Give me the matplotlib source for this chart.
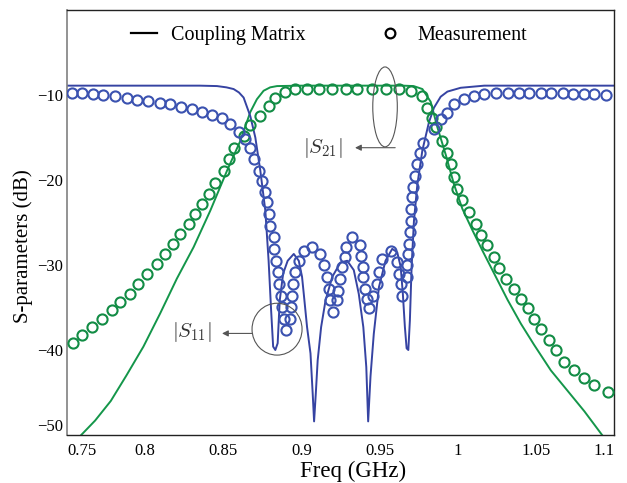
import matplotlib
matplotlib.use("Agg")
import matplotlib.pyplot as plt
from matplotlib.lines import Line2D
from matplotlib.patches import Ellipse

plt.rcParams["font.family"] = ["Liberation Serif", "DejaVu Serif"]
plt.rcParams["mathtext.fontset"] = "cm"

# ---- coupling-matrix model (lines) ----
s11_model_f = [0.750, 0.800, 0.835, 0.846, 0.852, 0.8566, 0.860, 0.863, 0.8673, 0.8705,
               0.8737, 0.8769, 0.879, 0.8806, 0.8819, 0.8833, 0.8848, 0.8861, 0.8883, 0.8912,
               0.8951, 0.8983, 0.9004, 0.9015, 0.9036, 0.9058, 0.9072, 0.9081, 0.9092, 0.9104,
               0.9126, 0.9154, 0.9197, 0.925, 0.9293, 0.9335, 0.9367, 0.9396, 0.9415, 0.9427,
               0.9442, 0.9463, 0.9496, 0.9538, 0.9581, 0.9613, 0.9635, 0.9649, 0.9662, 0.9673,
               0.9684, 0.9694, 0.9705, 0.972, 0.9742, 0.9774, 0.9816, 0.9848, 0.9891, 0.9934,
               1.0019, 1.017, 1.05, 1.1]
s11_model_db = [-8.9, -8.9, -8.9, -8.95, -9.1, -9.3, -9.7, -10.3, -12.5, -15.0,
                -18.9, -23.6, -29.5, -35.3, -39.6, -40.0, -39.2, -34.2, -31.0, -29.5,
                -28.7, -29.5, -31.4, -33.4, -37.3, -40.4, -45.1, -48.4, -45.1, -41.2,
                -37.3, -34.2, -31.4, -29.7, -29.5, -30.6, -33.4, -37.3, -42.0, -48.4,
                -43.1, -38.1, -32.6, -29.5, -28.1, -28.5, -30.2, -33.4, -37.3, -39.8,
                -40.0, -36.5, -30.2, -24.8, -20.5, -16.5, -13.2, -11.5, -10.2, -9.6,
                -9.15, -8.9, -8.9, -8.9]

s21_model_f = [0.757, 0.768, 0.778, 0.788, 0.7989, 0.8096, 0.8203, 0.831, 0.8417, 0.8524,
               0.8609, 0.8673, 0.8715, 0.8758, 0.880, 0.8844, 0.900, 0.940, 0.965, 0.9718,
               0.9774, 0.9827, 0.987, 0.9923, 0.9976, 1.003, 1.0094, 1.0158, 1.0233, 1.0319,
               1.0404, 1.0489, 1.0596, 1.0703, 1.081, 1.094]
s21_model_db = [-50.4, -48.3, -46.0, -43.0, -39.6, -35.7, -31.6, -27.9, -23.6, -18.9,
                -15.4, -12.0, -10.5, -9.5, -9.1, -8.95, -8.9, -8.9, -8.9, -8.95,
                -9.3, -10.8, -13.8, -17.0, -20.5, -23.4, -25.9, -28.3, -31.0, -34.1,
                -36.9, -39.4, -42.4, -44.8, -47.2, -50.4]

# ---- measurement (circles) ----
s11_meas_f = [0.753, 0.7594, 0.7669, 0.7733, 0.7808, 0.7883, 0.7951, 0.8021, 0.8092, 0.816,
              0.8229, 0.8299, 0.8363, 0.8428, 0.8492, 0.8545, 0.8598, 0.8641, 0.8673, 0.8694,
              0.8726, 0.8748, 0.8769, 0.878, 0.879, 0.8801, 0.8822, 0.8827, 0.884, 0.8851,
              0.8859, 0.887, 0.8875, 0.8887, 0.8904, 0.8925, 0.8934, 0.894, 0.8947, 0.8962,
              0.8983, 0.9015, 0.9069, 0.9122, 0.9143, 0.9165, 0.9175, 0.9186, 0.9203, 0.9229,
              0.9235, 0.9246, 0.9261, 0.9276, 0.9282, 0.9325, 0.9374, 0.9382, 0.9393, 0.9395,
              0.9404, 0.9421, 0.9431, 0.946, 0.9481, 0.9496, 0.9517, 0.9575, 0.9613, 0.9624,
              0.9635, 0.9641, 0.9673, 0.9678, 0.9682, 0.9688, 0.9694, 0.9699, 0.9703, 0.971,
              0.9716, 0.9724, 0.9737, 0.9758, 0.978, 0.9848, 0.9891, 0.9934, 0.9976, 1.004,
              1.0105, 1.0169, 1.0244, 1.0319, 1.0393, 1.0457, 1.0532, 1.0596, 1.0671, 1.0735,
              1.081, 1.0874, 1.0949]
s11_meas_db = [-9.8, -9.8, -9.9, -10.0, -10.15, -10.4, -10.55, -10.7, -10.9, -11.1,
               -11.4, -11.7, -12.0, -12.3, -12.7, -13.4, -14.3, -15.2, -16.25, -17.5,
               -18.9, -20.1, -21.45, -22.6, -24.0, -25.4, -26.7, -28.1, -29.5, -30.8,
               -32.2, -33.6, -34.9, -36.3, -37.6, -36.3, -34.9, -33.6, -32.2, -30.8,
               -29.5, -28.4, -27.9, -28.7, -30.0, -31.4, -32.8, -34.1, -35.5, -34.1,
               -33.0, -31.6, -30.2, -29.1, -27.9, -26.7, -27.6, -28.9, -30.2, -31.4,
               -32.8, -34.0, -35.1, -33.6, -32.2, -30.8, -29.3, -28.4, -29.7, -31.0,
               -32.2, -33.6, -31.4, -30.0, -28.7, -27.5, -26.1, -24.8, -23.4, -22.0,
               -20.8, -19.5, -18.1, -16.8, -15.6, -14.0, -12.85, -12.1, -11.1, -10.5,
               -10.1, -9.9, -9.8, -9.8, -9.8, -9.8, -9.8, -9.8, -9.8, -9.9,
               -9.9, -9.9, -10.0]

s21_meas_f = [0.754, 0.7594, 0.7658, 0.7722, 0.7786, 0.784, 0.7904, 0.7957, 0.8011, 0.8075,
              0.8128, 0.8181, 0.8224, 0.8278, 0.8321, 0.8363, 0.8406, 0.8449, 0.8502, 0.8534,
              0.8566, 0.863, 0.8673, 0.8737, 0.879, 0.8833, 0.8897, 0.8962, 0.9036, 0.9111,
              0.9196, 0.9282, 0.9357, 0.9453, 0.9538, 0.9624, 0.9699, 0.9774, 0.9806, 0.9838,
              0.9859, 0.9902, 0.9934, 0.9955, 0.9976, 0.9998, 1.003, 1.0073, 1.0115, 1.0147,
              1.019, 1.0233, 1.0265, 1.0308, 1.0361, 1.0404, 1.0447, 1.0489, 1.0532, 1.0585,
              1.0628, 1.0681, 1.0746, 1.081, 1.0874, 1.096]
s21_meas_db = [-39.2, -38.25, -37.3, -36.3, -35.3, -34.35, -33.4, -32.2, -31.0, -29.85,
               -28.7, -27.5, -26.3, -25.2, -24.0, -22.8, -21.6, -20.3, -18.9, -17.5,
               -16.2, -14.8, -13.5, -12.5, -11.3, -10.3, -9.6, -9.3, -9.3, -9.3,
               -9.3, -9.3, -9.3, -9.3, -9.3, -9.3, -9.5, -10.1, -11.5, -12.7,
               -13.8, -15.4, -16.8, -18.1, -19.7, -21.1, -22.4, -23.8, -25.2, -26.5,
               -27.7, -29.1, -30.4, -31.6, -32.8, -34.0, -35.1, -36.3, -37.5, -38.8,
               -40.0, -41.4, -42.4, -43.3, -44.1, -44.9]

xticks = [0.75, 0.8, 0.85, 0.9, 0.95, 1.0, 1.05, 1.1]
xtick_labels = ["0.75", "0.8", "0.85", "0.9", "0.95", "1", "1.05", "1.1"]
yticks = [-50, -40, -30, -20, -10]

blue_line, blue_mk = "#3643a2", "#3b52b0"
green_line, green_mk = "#14964a", "#128c45"
note_c = "#555555"

fig = plt.figure(figsize=(6.27, 4.83), dpi=100)
ax = fig.add_axes([67 / 627, 1 - 435 / 483, 547 / 627, 425 / 483])

ax.plot(s21_model_f, s21_model_db, color=green_line, lw=1.4, zorder=2)
ax.plot(s11_model_f, s11_model_db, color=blue_line, lw=1.4, zorder=2)
ax.plot(s21_meas_f, s21_meas_db, ls="none", marker="o", ms=7.3, mfc="none",
        mec=green_mk, mew=1.5, zorder=3)
ax.plot(s11_meas_f, s11_meas_db, ls="none", marker="o", ms=7.3, mfc="none",
        mec=blue_mk, mew=1.5, zorder=3)

ax.set_xlim(0.75, 1.1)
ax.set_ylim(-50, 0)
ax.set_xticks(xticks)
ax.set_xticklabels(xtick_labels)
ax.set_yticks(yticks)
ax.tick_params(length=0, labelsize=12)
ax.tick_params(axis="x", pad=6)
ax.tick_params(axis="y", pad=3)
xl = ax.get_xticklabels()
xl[0].set_ha("left")
xl[-1].set_ha("right")
ax.get_yticklabels()[0].set_va("bottom")

for side in ["top", "right", "bottom"]:
    ax.spines[side].set_color("#222222")
    ax.spines[side].set_linewidth(1.0)
ax.spines["left"].set_color("#808080")
ax.spines["left"].set_linewidth(1.2)

ax.set_xlabel("Freq (GHz)", fontsize=16.5)
ax.set_ylabel("S-parameters (dB)", fontsize=15)
ax.xaxis.set_label_coords(0.523, -0.061)
ax.yaxis.set_label_coords(-0.062, 0.445)

# annotations: |S21| ellipse and |S11| circle with arrows
ax.add_patch(Ellipse((0.9535, -11.4), 0.0157, 9.4, fill=False, ec=note_c, lw=0.8, zorder=4))
ax.annotate("", xy=(0.9343, -16.2), xytext=(0.9600, -16.2),
            arrowprops=dict(arrowstyle="-|>", color=note_c, lw=0.8,
                            mutation_scale=9, shrinkA=0, shrinkB=0))
ax.text(0.9135, -16.2, r"$|S_{21}|$", fontsize=15, ha="center", va="center", color="#333333")

ax.add_patch(Ellipse((0.8844, -37.55), 0.032, 6.1, fill=False, ec=note_c, lw=0.8, zorder=4))
ax.annotate("", xy=(0.8492, -38.05), xytext=(0.8684, -38.05),
            arrowprops=dict(arrowstyle="-|>", color=note_c, lw=0.8,
                            mutation_scale=9, shrinkA=0, shrinkB=0))
ax.text(0.8301, -37.9, r"$|S_{11}|$", fontsize=15, ha="center", va="center", color="#333333")

handles = [Line2D([], [], color="black", lw=1.6),
           Line2D([], [], ls="none", marker="o", ms=7, mfc="none", mec="black", mew=1.6)]
ax.legend(handles, ["Coupling Matrix", "Measurement"], loc="center left",
          bbox_to_anchor=(0.117, 0.941), ncol=2, frameon=False, fontsize=14.5,
          borderpad=0, borderaxespad=0, handlelength=1.3, handletextpad=0.7,
          columnspacing=3.55)

fig.savefig("out.png", dpi=100)
